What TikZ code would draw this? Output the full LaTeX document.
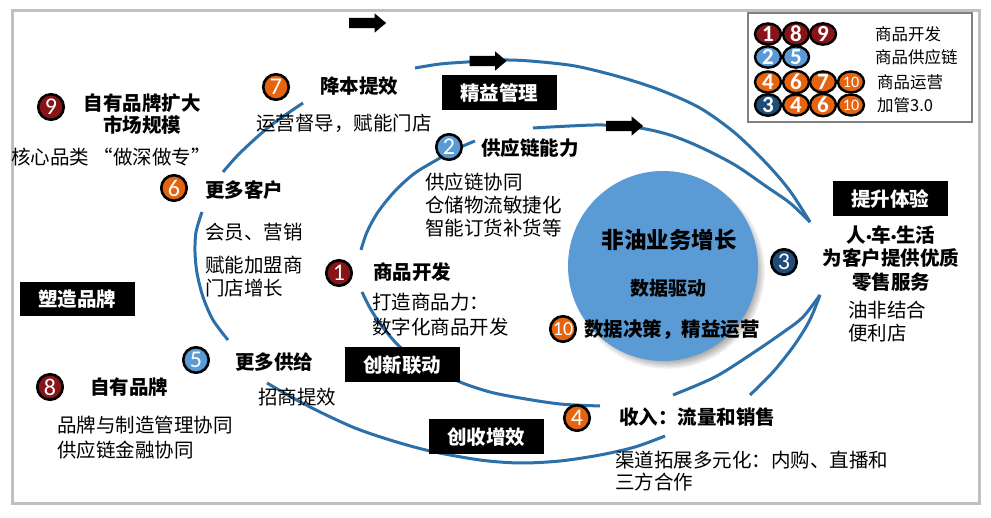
\documentclass[tikz,border=0pt]{standalone}
\usepackage{fontspec}
\setmainfont{Noto Sans CJK SC}
\newfontfamily\numfont{Carlito}
\newfontfamily\dotfont{Liberation Sans}
\usetikzlibrary{shapes.arrows,shapes.geometric,shadows,fadings}
\definecolor{curveblue}{RGB}{44,112,170}
\definecolor{bigblue}{RGB}{91,155,213}
\definecolor{cred}{RGB}{135,20,24}
\definecolor{corange}{RGB}{228,100,16}
\definecolor{clblue}{RGB}{91,155,213}
\definecolor{cdblue}{RGB}{30,78,120}
\definecolor{framegray}{RGB}{192,192,192}
\definecolor{leggray}{RGB}{128,128,128}
\newcommand{\mydot}{{\dotfont\fontsize{15}{15}\selectfont •}}
\begin{document}
\begin{tikzpicture}[x=1pt,y=-1pt,
  loopline/.style={draw=curveblue, line width=3pt},
  badge/.style={circle, draw=black, line width=2.6pt, minimum size=25.5pt, inner sep=0pt, text=white, font=\numfont\fontsize{24}{24}\selectfont},
  legbadge/.style={ellipse, draw=black, line width=2.4pt, minimum width=26pt, minimum height=21pt, inner sep=0pt, text=white, font=\numfont\bfseries\fontsize{23}{23}\selectfont},
  boldlbl/.style={inner sep=0pt, align=center, font=\bfseries\fontsize{19.5}{23}\selectfont},
  reglbl/.style={inner sep=0pt, align=left, font=\fontsize{19.5}{23}\selectfont},
  leglbl/.style={inner sep=0pt, anchor=west, font=\fontsize{16.5}{20}\selectfont},
  blackbox/.style={fill=black, text=white, minimum width=115pt, minimum height=35pt, inner sep=0pt, font=\bfseries\fontsize{19.5}{23}\selectfont},
  blockarrow/.style={single arrow, fill=black, draw=none, inner sep=5pt, minimum height=37pt, single arrow head extend=4.5pt, single arrow tip angle=80}
]
\useasboundingbox (0,0) rectangle (991,518);
\fill[white] (0,0) rectangle (991,518);
\draw[framegray, line width=3pt] (12,10.5) rectangle (979,503);

% central circle
\node[circle, fill=bigblue, minimum size=190pt, inner sep=0pt,
      circular drop shadow={shadow xshift=4pt, shadow yshift=-5pt, shadow scale=1.03}] (core) at (663,266) {};
\node[boldlbl, font=\bfseries\fontsize{22.5}{26}\selectfont] (ct1) at (669,240) {非油业务增长};
\node[boldlbl, font=\bfseries\fontsize{19}{22}\selectfont] (ct2) at (668,288) {数据驱动};

% outer loop
\draw[loopline] plot[smooth] coordinates {(810,222) (790,191) (767,164) (735,133) (700,108) (660,90) (620,77) (575,66) (530,61) (500,60) (467,62) (440,64) (415,68)};
\draw[loopline] plot[smooth] coordinates {(303,103) (270,126) (240,153) (223,172)};
\draw[loopline] plot[smooth] coordinates {(202,212) (196,232) (195,252) (197,273) (203,297) (213,320) (228,340)};
\draw[loopline] plot[smooth] coordinates {(267,383) (293,398) (320,412) (355,428) (390,440) (430,451) (480,460) (520,463) (560,461) (600,455) (635,447) (665,436)};
\draw[loopline] plot[smooth] coordinates {(750,395) (773,372) (793,347) (806,327) (813,313) (820,295)};
% inner loop
\draw[loopline] plot[smooth] coordinates {(810,222) (790,203) (767,187) (735,165) (700,147) (670,135) (640,128) (603,125) (570,126) (533,128)};
\draw[loopline] plot[smooth] coordinates {(475,141) (463,146) (450,152) (440,158) (415,173) (395,191) (378,212) (367,232) (361,250)};
\draw[loopline] plot[smooth] coordinates {(362,292) (370,308) (381,325) (400,347) (425,365) (460,382) (490,392) (520,398) (560,404) (600,406)};
\draw[loopline] plot[smooth] coordinates {(673,395) (715,377) (753,353) (785,331) (803,317) (820,295)};

% arrows
\node[blockarrow] (a0) at (364.5,23) {};
\node[blockarrow] (a1) at (485,61) {};
\node[blockarrow] (a2) at (621.5,126) {};

% black boxes
\node[blackbox] (b1) at (499,93) {精益管理};
\node[blackbox] (b2) at (890,199) {提升体验};
\node[blackbox] (b3) at (402,365) {创新联动};
\node[blackbox] (b4) at (486,437) {创收增效};
\node[blackbox, minimum height=34pt] (b5) at (77,299) {塑造品牌};

% numbered badges
\node[badge, fill=cred] (c1) at (339,273) {1};
\node[badge, fill=clblue] (c2) at (449,147) {2};
\node[badge, fill=cdblue] (c3) at (784,262) {3};
\node[badge, fill=corange] (c4) at (577,418) {4};
\node[badge, fill=clblue] (c5) at (196,360) {5};
\node[badge, fill=corange] (c6) at (174,188) {6};
\node[badge, fill=corange] (c7) at (276,87) {7};
\node[badge, fill=cred] (c8) at (50,387) {8};
\node[badge, fill=cred] (c9) at (51,107) {9};
\node[badge, fill=corange, font=\numfont\fontsize{20}{20}\selectfont] (c10) at (563,329) {10};

% texts
\node[boldlbl, font=\bfseries\fontsize{19.5}{22}\selectfont] (t9) at (142,114) {自有品牌扩大\\市场规模};
\node[reglbl] (t9b) at (111,157) {核心品类 “做深做专”};
\node[boldlbl] (t7) at (359,86) {降本提效};
\node[reglbl] (t7b) at (344,123) {运营督导，赋能门店};
\node[boldlbl] (t2) at (530,148) {供应链能力};
\node[reglbl, anchor=west] (t2b) at (425,205) {供应链协同\\仓储物流敏捷化\\智能订货补货等};
\node[boldlbl] (t1) at (412,272) {商品开发};
\node[reglbl, anchor=west, font=\fontsize{19.5}{25}\selectfont] (t1b) at (372,314.5) {打造商品力：\\数字化商品开发};
\node[boldlbl] (t10) at (672,330) {数据决策，精益运营};
\node[boldlbl, font=\bfseries\fontsize{19.5}{23.5}\selectfont] (t3) at (891,258.5) {人\mydot 车\mydot 生活\\为客户提供优质\\零售服务};
\node[reglbl, anchor=west] (t3b) at (848,321.5) {油非结合\\便利店};
\node[boldlbl] (t4) at (697,417) {收入：流量和销售};
\node[reglbl, anchor=west, font=\fontsize{19.5}{22}\selectfont] (t4b) at (615,471) {渠道拓展多元化：内购、直播和\\三方合作};
\node[boldlbl] (t5) at (274,362) {更多供给};
\node[reglbl] (t5b) at (297,397) {招商提效};
\node[boldlbl] (t6) at (244,190) {更多客户};
\node[reglbl, anchor=west] (t6b) at (205,232) {会员、营销};
\node[reglbl, anchor=west] (t6c) at (205,276.5) {赋能加盟商\\门店增长};
\node[boldlbl] (t8) at (129,387) {自有品牌};
\node[reglbl, anchor=west, font=\fontsize{19.5}{25}\selectfont] (t8b) at (57,437.5) {品牌与制造管理协同\\供应链金融协同};

% legend
\node[draw=leggray, line width=2.5pt, minimum width=224pt, minimum height=109pt, inner sep=0pt] (legend) at (860,67.5) {};
\node[legbadge, fill=cred] (l11) at (768,34) {1};
\node[legbadge, fill=cred] (l12) at (796,34) {8};
\node[legbadge, fill=cred] (l13) at (823,34) {9};
\node[legbadge, fill=clblue] (l21) at (768,57) {2};
\node[legbadge, fill=clblue] (l22) at (796,57) {5};
\node[legbadge, fill=corange] (l31) at (768,82) {4};
\node[legbadge, fill=corange] (l32) at (796,82) {6};
\node[legbadge, fill=corange] (l33) at (823,82) {7};
\node[legbadge, fill=corange, font=\numfont\fontsize{16}{16}\selectfont] (l34) at (851,82) {10};
\node[legbadge, fill=cdblue] (l41) at (768,105) {3};
\node[legbadge, fill=corange] (l42) at (796,105) {4};
\node[legbadge, fill=corange] (l43) at (823,105) {6};
\node[legbadge, fill=corange, font=\numfont\fontsize{16}{16}\selectfont] (l44) at (851,105) {10};
\node[leglbl] (lt1) at (875,34) {商品开发};
\node[leglbl] (lt2) at (875,57) {商品供应链};
\node[leglbl] (lt3) at (877,82) {商品运营};
\node[leglbl] (lt4) at (877,105) {加管3.0};
\end{tikzpicture}
\end{document}
